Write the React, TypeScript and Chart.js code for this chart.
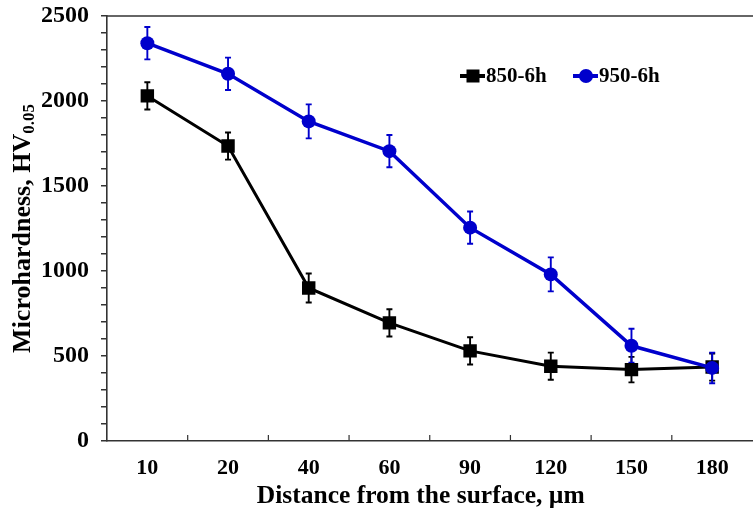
import React, { useEffect, useRef } from 'react';
import { Chart, registerables } from 'chart.js';

Chart.register(...registerables);

const categories = ['10', '20', '40', '60', '90', '120', '150', '180'];
const series850 = [2030, 1735, 900, 695, 530, 440, 420, 435];
const err850 = [80, 80, 85, 80, 80, 80, 75, 80];
const series950 = [2340, 2160, 1880, 1705, 1255, 980, 560, 430];
const err950 = [95, 95, 100, 95, 95, 100, 100, 90];
const yMajorTicks = [0, 500, 1000, 1500, 2000, 2500];
const seriesNames = ['850-6h', '950-6h'];
const xTitle = 'Distance from the surface, µm';
const yTitleMain = 'Microhardness, HV';
const yTitleSub = '0.05';

const FONT = "'Liberation Serif', 'Times New Roman', serif";
const BLACK = '#000000';
const BLUE = '#0000CC';
const AXIS = '#333333';

const decorPlugin = {
  id: 'decor',
  beforeDatasetsDraw(chart: any) {
    const { ctx, scales } = chart;
    const xs = scales.x;
    const ys = scales.y;
    chart.data.datasets.forEach((ds: any) => {
      const errs: number[] = ds.errors || [];
      ctx.save();
      ctx.strokeStyle = ds.borderColor;
      ctx.lineWidth = 1.9;
      ds.data.forEach((v: number, i: number) => {
        const e = errs[i] || 0;
        const xp = xs.getPixelForValue(i);
        const yt = ys.getPixelForValue(v + e);
        const yb = ys.getPixelForValue(v - e);
        ctx.beginPath();
        ctx.moveTo(xp, yt);
        ctx.lineTo(xp, yb);
        ctx.moveTo(xp - 3, yt);
        ctx.lineTo(xp + 3, yt);
        ctx.moveTo(xp - 3, yb);
        ctx.lineTo(xp + 3, yb);
        ctx.stroke();
      });
      ctx.restore();
    });
  },
  afterDraw(chart: any) {
    const { ctx, chartArea, scales, width } = chart;
    const xs = scales.x;
    ctx.save();
    // top frame line
    ctx.strokeStyle = AXIS;
    ctx.lineWidth = 1.6;
    ctx.beginPath();
    ctx.moveTo(chartArea.left, chartArea.top);
    ctx.lineTo(width, chartArea.top);
    ctx.stroke();
    // inward x ticks between categories
    ctx.lineWidth = 1.2;
    ctx.beginPath();
    for (let i = 1; i < categories.length; i++) {
      const xp = (xs.getPixelForValue(i - 1) + xs.getPixelForValue(i)) / 2;
      ctx.moveTo(xp, chartArea.bottom);
      ctx.lineTo(xp, chartArea.bottom - 6);
    }
    ctx.stroke();

    // x title
    ctx.fillStyle = '#000';
    ctx.font = `bold 25.5px ${FONT}`;
    ctx.textAlign = 'center';
    ctx.textBaseline = 'middle';
    ctx.fillText(xTitle, (chartArea.left + chartArea.right) / 2 - 9, chartArea.bottom + 55);

    // y title with subscript
    const cy = (chartArea.top + chartArea.bottom) / 2;
    ctx.save();
    ctx.translate(23, cy);
    ctx.rotate(-Math.PI / 2);
    ctx.font = `bold 26px ${FONT}`;
    const wMain = ctx.measureText(yTitleMain).width;
    ctx.font = `bold 17px ${FONT}`;
    const wSub = ctx.measureText(yTitleSub).width;
    const total = wMain + wSub;
    ctx.textAlign = 'left';
    ctx.textBaseline = 'middle';
    ctx.font = `bold 26px ${FONT}`;
    ctx.fillText(yTitleMain, -total / 2, 0);
    ctx.font = `bold 17px ${FONT}`;
    ctx.fillText(yTitleSub, -total / 2 + wMain, 7);
    ctx.restore();

    // legend
    const lx = chartArea.left + 353;
    const ly = chartArea.top + 60;
    const items = [
      { name: seriesNames[0], color: BLACK, style: 'rect' },
      { name: seriesNames[1], color: BLUE, style: 'circle' },
    ];
    ctx.font = `bold 21px ${FONT}`;
    ctx.textAlign = 'left';
    ctx.textBaseline = 'middle';
    items.forEach((it, k) => {
      const x0 = lx + k * 113;
      ctx.strokeStyle = it.color;
      ctx.fillStyle = it.color;
      ctx.lineWidth = 4;
      ctx.beginPath();
      ctx.moveTo(x0, ly);
      ctx.lineTo(x0 + 25, ly);
      ctx.stroke();
      const mx = x0 + 13;
      if (it.style === 'rect') {
        ctx.fillRect(mx - 6.5, ly - 6.5, 13, 13);
      } else {
        ctx.beginPath();
        ctx.arc(mx, ly, 7, 0, Math.PI * 2);
        ctx.fill();
      }
      ctx.fillStyle = '#000';
      ctx.fillText(it.name, x0 + 26, ly + 1);
    });
    ctx.restore();
  },
};

export default function App() {
  const canvasRef = useRef<HTMLCanvasElement | null>(null);

  useEffect(() => {
    const canvas = canvasRef.current;
    if (!canvas) return;
    const chart = new Chart(canvas, {
      type: 'line',
      data: {
        labels: categories,
        datasets: [
          {
            label: seriesNames[0],
            data: series850,
            errors: err850,
            borderColor: BLACK,
            backgroundColor: BLACK,
            pointBackgroundColor: BLACK,
            pointBorderColor: BLACK,
            borderWidth: 3,
            pointStyle: 'rect',
            pointRadius: 9.5,
            pointBorderWidth: 0,
            tension: 0,
            order: 2,
          } as any,
          {
            label: seriesNames[1],
            data: series950,
            errors: err950,
            borderColor: BLUE,
            backgroundColor: BLUE,
            pointBackgroundColor: BLUE,
            pointBorderColor: BLUE,
            borderWidth: 3.5,
            pointStyle: 'circle',
            pointRadius: 7,
            pointBorderWidth: 0,
            tension: 0,
            order: 1,
          } as any,
        ],
      },
      options: {
        responsive: false,
        animation: false,
        devicePixelRatio: 1,
        layout: { padding: { top: 16, right: 1, left: 0, bottom: 0 } },
        plugins: {
          legend: { display: false },
          tooltip: { enabled: false },
          title: { display: false },
        },
        scales: {
          x: {
            type: 'category',
            offset: true,
            grid: { display: true, drawOnChartArea: false, drawTicks: false, offset: true, color: AXIS },
            border: { display: true, color: AXIS, width: 1.6 },
            ticks: {
              color: '#000',
              font: { family: FONT, size: 22, weight: 'bold' },
              padding: 14,
              maxRotation: 0,
              autoSkip: false,
            },
            afterFit: (s: any) => {
              s.height = 77;
              s.paddingLeft = 0;
              s.paddingRight = 0;
            },
          },
          y: {
            min: 0,
            max: 2500,
            grid: { drawOnChartArea: false, drawTicks: true, tickLength: 6, color: AXIS, lineWidth: 1.5 },
            border: { display: true, color: AXIS, width: 1.6 },
            ticks: {
              stepSize: 100,
              autoSkip: false,
              color: '#000',
              font: { family: FONT, size: 24, weight: 'bold' },
              padding: 12,
              callback: (v: any) => (yMajorTicks.includes(Number(v)) ? String(v) : ''),
            },
            afterFit: (s: any) => {
              s.width = 107;
              s.paddingTop = 0;
              s.paddingBottom = 0;
            },
          },
        },
      } as any,
      plugins: [decorPlugin],
    });
    return () => chart.destroy();
  }, []);

  return (
    <div
      style={{
        position: 'fixed',
        left: 0,
        top: 0,
        width: 753,
        height: 518,
        overflow: 'hidden',
        background: '#fff',
      }}
    >
      <canvas ref={canvasRef} width={762} height={518} style={{ display: 'block' }} />
    </div>
  );
}
